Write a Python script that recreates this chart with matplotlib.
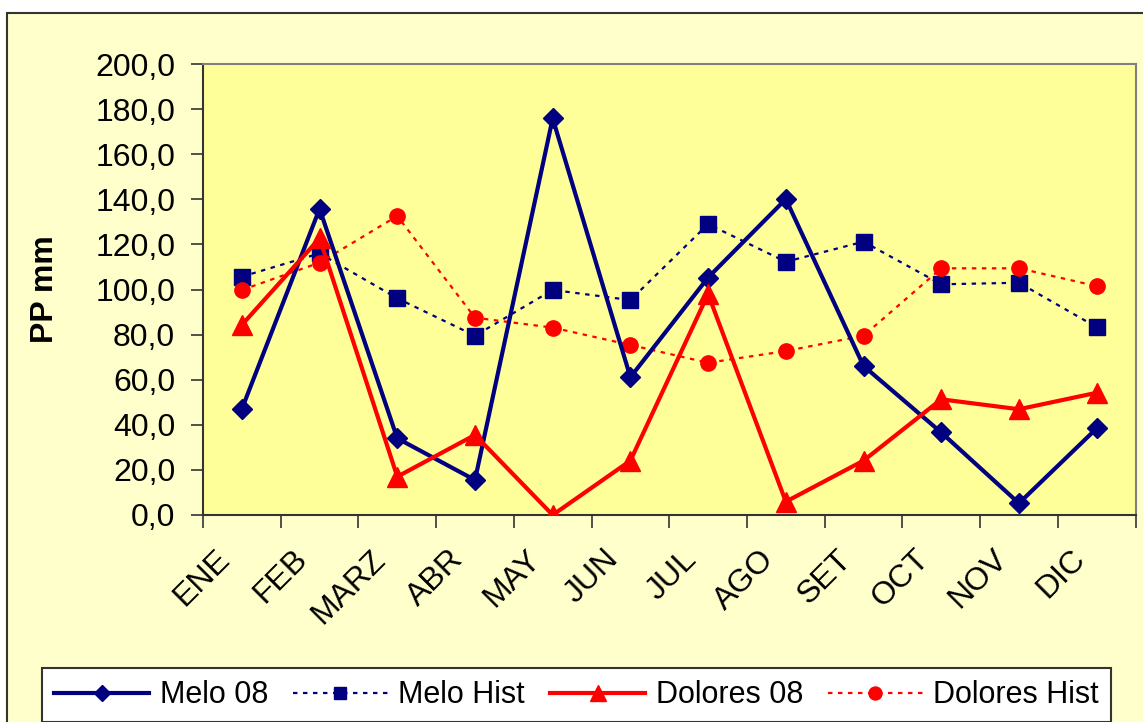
import matplotlib
matplotlib.use('Agg')
import matplotlib.pyplot as plt
from matplotlib.patches import Rectangle
from matplotlib.ticker import FixedLocator, FuncFormatter
from matplotlib.transforms import ScaledTranslation

plt.rcParams['font.family'] = ['Liberation Sans', 'DejaVu Sans']

# Monthly precipitation (mm)
months = ["ENE", "FEB", "MARZ", "ABR", "MAY", "JUN",
          "JUL", "AGO", "SET", "OCT", "NOV", "DIC"]
melo_08 = [47.0, 135.8, 34.0, 15.5, 175.9, 61.1,
           105.3, 140.1, 66.1, 36.6, 5.2, 38.4]
melo_hist = [105.7, 116.0, 96.1, 79.5, 99.8, 95.3,
             129.0, 112.3, 121.2, 102.3, 103.0, 83.3]
dolores_08 = [84.3, 122.7, 17.0, 35.5, 0.0, 24.1,
              98.0, 5.9, 24.1, 51.3, 46.9, 54.2]
dolores_hist = [99.8, 111.9, 132.6, 87.5, 83.1, 75.4,
                67.5, 72.7, 79.5, 109.4, 109.4, 101.5]

NAVY = '#000080'
RED = '#FF0000'

fig = plt.figure(figsize=(11.43, 7.22), dpi=100, facecolor='white')

# outer chart area (light yellow with dark frame)
fig.patches.append(Rectangle((7 / 1143, -0.2), 1.2, 1.2 - 13 / 722,
                             transform=fig.transFigure, facecolor='#FFFFCC',
                             edgecolor='#333333', linewidth=1.5, zorder=-10))

ax = fig.add_axes([203 / 1143, 1 - 515 / 722, 932.5 / 1143, 451 / 722])
ax.set_facecolor('#FFFF99')

x = list(range(len(months)))
dot = (0, (2, 2.5))
ax.plot(x, melo_08, color=NAVY, lw=3, marker='D', ms=10, label='Melo 08', zorder=4)
ax.plot(x, melo_hist, color=NAVY, lw=1.6, ls=dot, marker='s', ms=11, label='Melo Hist', zorder=3)
ax.plot(x, dolores_08, color=RED, lw=3, marker='^', ms=14, label='Dolores 08', zorder=4)
ax.plot(x, dolores_hist, color=RED, lw=1.6, ls=dot, marker='o', ms=11, label='Dolores Hist', zorder=3)

ax.set_xlim(-0.5, len(months) - 0.5)
ax.set_ylim(0, 200)
ax.set_yticks(range(0, 201, 20))
ax.yaxis.set_major_formatter(FuncFormatter(lambda v, p: f"{v:.1f}".replace('.', ',')))

# ticks at category boundaries, labels at centres
ax.xaxis.set_major_locator(FixedLocator([i - 0.5 for i in range(len(months) + 1)]))
ax.xaxis.set_major_formatter(FuncFormatter(lambda v, p: ''))
ax.xaxis.set_minor_locator(FixedLocator(x))
ax.set_xticklabels(months, minor=True)
ax.tick_params(axis='x', which='minor', length=0, pad=21, labelsize=23)
ax.tick_params(axis='x', which='major', length=9, width=1.2, color='#333333', direction='out')
ax.tick_params(axis='y', length=9, width=1.2, color='#333333', direction='out', labelsize=23, pad=11)
shift = ScaledTranslation(-0.27, 0, fig.dpi_scale_trans)
for lbl in ax.get_xticklabels(minor=True):
    lbl.set_rotation(45)
    lbl.set_ha('right')
    lbl.set_va('top')
    lbl.set_rotation_mode('anchor')
    lbl.set_transform(lbl.get_transform() + shift)

for side in ['top', 'right']:
    ax.spines[side].set_color('#808080')
    ax.spines[side].set_linewidth(1.5)
for side in ['left', 'bottom']:
    ax.spines[side].set_color('#333333')
    ax.spines[side].set_linewidth(1.5)

ax.set_ylabel('PP mm', fontsize=23, fontweight='bold')
ax.yaxis.set_label_coords(-0.153, 0.5)

leg = fig.legend(loc='upper left', bbox_to_anchor=(42 / 1143, 1 - 668 / 722),
                 ncol=4, fontsize=22, frameon=True, fancybox=False,
                 edgecolor='#333333', facecolor='white', framealpha=1,
                 handlelength=3.1, handletextpad=0.35, columnspacing=0.82,
                 borderaxespad=0, borderpad=0.4, markerscale=0.85)
leg.get_frame().set_linewidth(1.5)

fig.savefig('out.png', dpi=100)
